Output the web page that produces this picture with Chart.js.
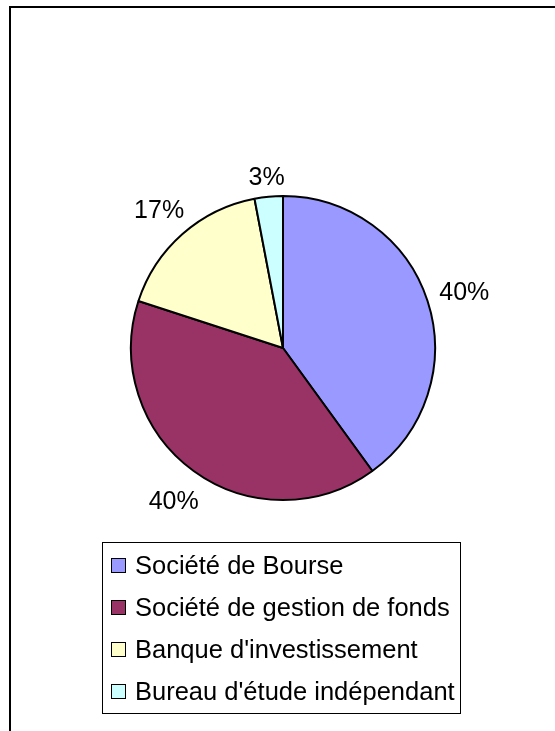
<!DOCTYPE html>
<html>
<head>
<meta charset="utf-8">
<script src="https://cdn.jsdelivr.net/npm/chart.js@4/dist/chart.umd.min.js"></script>
<style>
  body { margin: 0; background: #fff; }
  #wrap { position: relative; width: 555px; height: 731px; }
</style>
</head>
<body>
<div id="wrap"><canvas id="pie-chart" width="555" height="731"></canvas></div>
<script>
const categories = ['Société de Bourse', 'Société de gestion de fonds', "Banque d'investissement", "Bureau d'étude indépendant"];
const values = [40, 40, 17, 3];
const sliceColors = ['#9999FF', '#993366', '#FFFFCC', '#CCFFFF'];
const FONT = '"Liberation Sans", Arial, sans-serif';

// frame of the chart area (only top and left edges are in view)
const framePlugin = {
    id: 'frame',
    beforeDraw(chart) {
        const c = chart.ctx;
        c.save();
        c.fillStyle = '#000';
        c.fillRect(9, 6, 546, 2);
        c.fillRect(9, 6, 2, 725);
        c.restore();
    }
};

// percentage labels outside each slice
const outLabels = {
    id: 'outLabels',
    afterDatasetsDraw(chart) {
        const c = chart.ctx;
        const meta = chart.getDatasetMeta(0);
        const total = values.reduce((a, b) => a + b, 0);
        c.save();
        c.font = '25px ' + FONT;
        c.fillStyle = '#000';
        c.textAlign = 'center';
        c.textBaseline = 'middle';
        meta.data.forEach(function(arc, i) {
            const p = arc.getProps(['x', 'y', 'startAngle', 'endAngle', 'outerRadius'], true);
            const mid = (p.startAngle + p.endAngle) / 2;
            const dx = Math.cos(mid), dy = Math.sin(mid);
            const txt = Math.round(values[i] / total * 100) + '%';
            const w = c.measureText(txt).width, h = 18;
            const d = p.outerRadius + 12 + Math.abs(dx) * w / 2 + Math.abs(dy) * h / 2;
            c.fillText(txt, p.x + dx * d, p.y + dy * d + 4);
        });
        c.restore();
    }
};

// boxed legend below the pie
const boxLegend = {
    id: 'boxLegend',
    afterDraw(chart) {
        const c = chart.ctx;
        c.save();
        c.strokeStyle = '#000';
        c.lineWidth = 1;
        c.strokeRect(102.5, 542.5, 358, 171);
        c.font = '25.5px ' + FONT;
        c.textBaseline = 'middle';
        categories.forEach(function(name, i) {
            const y = 566 + i * 42;
            c.fillStyle = sliceColors[i];
            c.fillRect(111.5, y - 7.5, 14, 14);
            c.strokeRect(111.5, y - 7.5, 14, 14);
            c.fillStyle = '#000';
            c.fillText(name, 135, y + 1);
        });
        c.restore();
    }
};

const ctx = document.getElementById('pie-chart').getContext('2d');
const myChart = new Chart(ctx, {
    type: 'pie',
    data: {
        labels: categories,
        datasets: [{
            data: values,
            backgroundColor: sliceColors,
            borderColor: '#000',
            borderWidth: 2
        }]
    },
    options: {
        responsive: false,
        animation: false,
        layout: {
            padding: { left: 130, top: 195, right: 119, bottom: 230 }
        },
        plugins: {
            legend: { display: false },
            tooltip: { enabled: false }
        }
    },
    plugins: [framePlugin, outLabels, boxLegend]
});
</script>
</body>
</html>
